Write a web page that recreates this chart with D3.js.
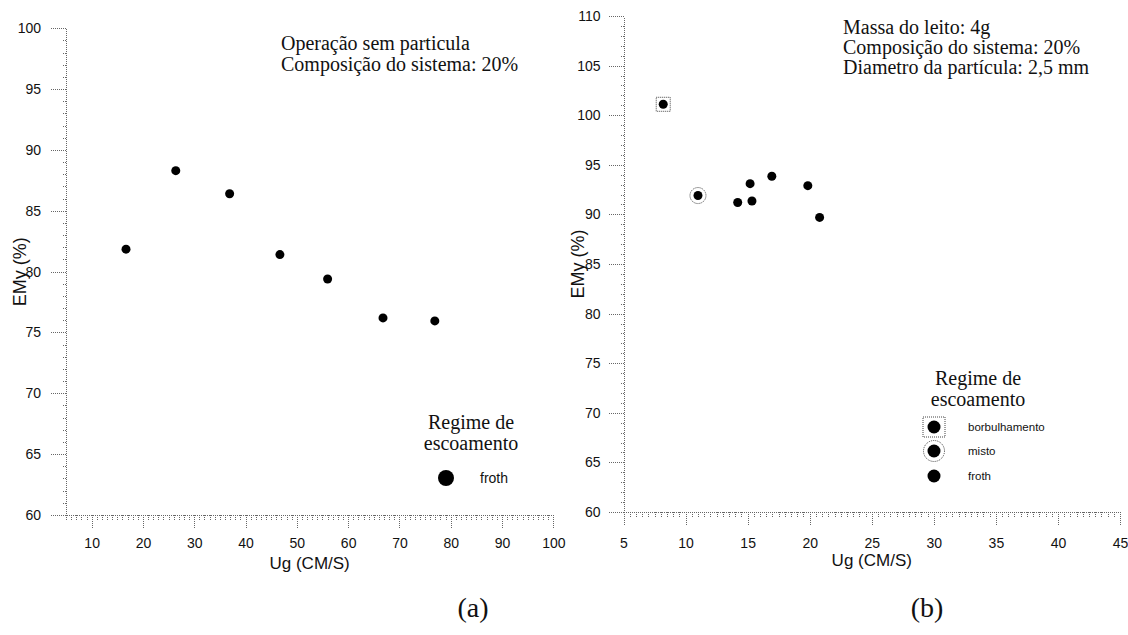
<!DOCTYPE html>
<html>
<head>
<meta charset="utf-8">
<script src="https://cdn.jsdelivr.net/npm/d3@7"></script>
<style>
  html, body { margin: 0; padding: 0; background: #fff; }
  svg { display: block; }
  .axis path, .axis line { stroke: #666; stroke-dasharray: 1,1; shape-rendering: crispEdges; }
  .axis text { font-family: "Liberation Sans", Arial, sans-serif; font-size: 14px; fill: #111; }
  .serif { font-family: "Liberation Serif", "Times New Roman", serif; fill: #111; }
  .sans { font-family: "Liberation Sans", Arial, sans-serif; fill: #111; }
</style>
</head>
<body>
<svg id="chart" width="1128" height="635"></svg>
<script>
// ---------- data ----------
const leftUg  = [16.7, 26.4, 36.9, 46.7, 56.0, 66.8, 76.9];
const leftEMy = [81.85, 88.3, 86.4, 81.4, 79.4, 76.2, 75.95];

const rightUg     = [8.2, 11.0, 14.2, 15.2, 15.35, 16.95, 19.85, 20.8];
const rightEMy    = [101.1, 91.9, 91.2, 93.1, 91.35, 93.85, 92.9, 89.7];
const rightRegime = ["borbulhamento", "misto", "froth", "froth", "froth", "froth", "froth", "froth"];

const leftXTicks  = [10, 20, 30, 40, 50, 60, 70, 80, 90, 100];
const leftYTicks  = [60, 65, 70, 75, 80, 85, 90, 95, 100];
const rightXTicks = [5, 10, 15, 20, 25, 30, 35, 40, 45];
const rightYTicks = [60, 65, 70, 75, 80, 85, 90, 95, 100, 105, 110];

const leftNotes  = ["Operação sem particula", "Composição do sistema: 20%"];
const rightNotes = ["Massa do leito: 4g", "Composição do sistema: 20%", "Diametro da partícula: 2,5 mm"];
const legendTitle = ["Regime de", "escoamento"];
const leftLegend  = ["froth"];
const rightLegend = ["borbulhamento", "misto", "froth"];
const xTitle = "Ug (CM/S)";
const yTitle = "EMy (%)";

// ---------- drawing ----------
const svg = d3.select("#chart");

function panel(cfg) {
  const x = d3.scaleLinear().domain(cfg.xDomain).range(cfg.xRange);
  const y = d3.scaleLinear().domain(cfg.yDomain).range(cfg.yRange);
  const x0 = cfg.xRange[0], y0 = cfg.yRange[0];

  const xMinor = d3.range(cfg.xDomain[0], cfg.xDomain[1] + 1e-9, cfg.xMinorStep);
  const yMinor = d3.range(cfg.yDomain[0], cfg.yDomain[1] + 1e-9, cfg.yMinorStep);

  svg.append("g").attr("class", "axis")
    .attr("transform", `translate(0,${y0})`)
    .call(d3.axisBottom(x).tickValues(xMinor).tickSize(6).tickSizeOuter(0).tickFormat(""));
  svg.append("g").attr("class", "axis")
    .attr("transform", `translate(${x0},0)`)
    .call(d3.axisLeft(y).tickValues(yMinor).tickSize(4).tickSizeOuter(0).tickFormat(""));

  svg.append("g").attr("class", "axis")
    .attr("transform", `translate(0,${y0})`)
    .call(d3.axisBottom(x).tickValues(cfg.xTicks).tickSize(13).tickSizeOuter(0).tickPadding(cfg.xPad).tickFormat(d3.format("d")))
    .call(g => g.select(".domain").remove());
  svg.append("g").attr("class", "axis")
    .attr("transform", `translate(${x0},0)`)
    .call(d3.axisLeft(y).tickValues(cfg.yTicks).tickSize(16).tickSizeOuter(0).tickPadding(cfg.yPad).tickFormat(d3.format("d")))
    .call(g => g.select(".domain").remove());

  svg.append("text").attr("class", "sans")
    .attr("x", (cfg.xRange[0] + cfg.xRange[1]) / 2).attr("y", y0 + 54)
    .attr("text-anchor", "middle").attr("font-size", 17).text(xTitle);
  const yc = (cfg.yRange[0] + cfg.yRange[1]) / 2;
  svg.append("text").attr("class", "sans")
    .attr("transform", `translate(${x0 - 40},${yc}) rotate(-90)`)
    .attr("text-anchor", "middle").attr("font-size", 18).text(yTitle);

  const pts = cfg.ug.map((u, i) => ({u, e: cfg.emy[i], r: cfg.regime ? cfg.regime[i] : "froth"}));
  const g = svg.append("g");
  pts.forEach(p => {
    const cx = x(p.u), cy = y(p.e);
    if (p.r === "borbulhamento") {
      g.append("rect").attr("x", cx - 7).attr("y", cy - 7).attr("width", 14).attr("height", 14)
        .attr("fill", "none").attr("stroke", "#444").attr("stroke-dasharray", "1,1");
    } else if (p.r === "misto") {
      g.append("circle").attr("cx", cx).attr("cy", cy).attr("r", 8)
        .attr("fill", "none").attr("stroke", "#444").attr("stroke-dasharray", "1,1");
    }
    g.append("circle").attr("cx", cx).attr("cy", cy).attr("r", 4.5).attr("fill", "#000");
  });

  cfg.notes.forEach((t, i) => {
    svg.append("text").attr("class", "serif")
      .attr("x", cfg.noteX).attr("y", cfg.noteY + i * cfg.noteDy)
      .attr("font-size", 20).text(t);
  });

  legendTitle.forEach((t, i) => {
    svg.append("text").attr("class", "serif")
      .attr("x", cfg.legX).attr("y", cfg.legY + i * 21)
      .attr("text-anchor", "middle").attr("font-size", 20).text(t);
  });

  svg.append("text").attr("class", "serif")
    .attr("x", cfg.labX).attr("y", 617)
    .attr("text-anchor", "middle").attr("font-size", 28).text(cfg.label);
}

panel({
  xDomain: [5, 100], xRange: [66, 553.3], yDomain: [60, 100], yRange: [515, 28.3],
  xTicks: leftXTicks, yTicks: leftYTicks, xMinorStep: 1, yMinorStep: 1,
  xPad: 10, yPad: 9,
  ug: leftUg, emy: leftEMy, regime: null,
  notes: leftNotes, noteX: 281, noteY: 50, noteDy: 21,
  legX: 471, legY: 429, labX: 473, label: "(a)"
});

panel({
  xDomain: [5, 45], xRange: [623.5, 1120], yDomain: [60, 110], yRange: [512, 16],
  xTicks: rightXTicks, yTicks: rightYTicks, xMinorStep: 0.5, yMinorStep: 1,
  xPad: 13, yPad: 7,
  ug: rightUg, emy: rightEMy, regime: rightRegime,
  notes: rightNotes, noteX: 843, noteY: 34, noteDy: 20,
  legX: 978, legY: 385, labX: 927, label: "(b)"
});

// left legend
svg.append("circle").attr("cx", 446).attr("cy", 478).attr("r", 8).attr("fill", "#000");
svg.append("text").attr("class", "sans").attr("x", 480).attr("y", 483)
  .attr("font-size", 14).text(leftLegend[0]);

// right legend
const legYs = [427, 451, 476];
rightLegend.forEach((t, i) => {
  const cy = legYs[i];
  if (t === "borbulhamento") {
    svg.append("rect").attr("x", 923).attr("y", cy - 10).attr("width", 22).attr("height", 20)
      .attr("fill", "none").attr("stroke", "#444").attr("stroke-dasharray", "1,1");
  } else if (t === "misto") {
    svg.append("circle").attr("cx", 934).attr("cy", cy).attr("r", 10.5)
      .attr("fill", "none").attr("stroke", "#444").attr("stroke-dasharray", "1,1");
  }
  svg.append("circle").attr("cx", 934).attr("cy", cy).attr("r", 6.5).attr("fill", "#000");
  svg.append("text").attr("class", "sans").attr("x", 968).attr("y", cy + 4)
    .attr("font-size", 11.5).text(t);
});
</script>
</body>
</html>
